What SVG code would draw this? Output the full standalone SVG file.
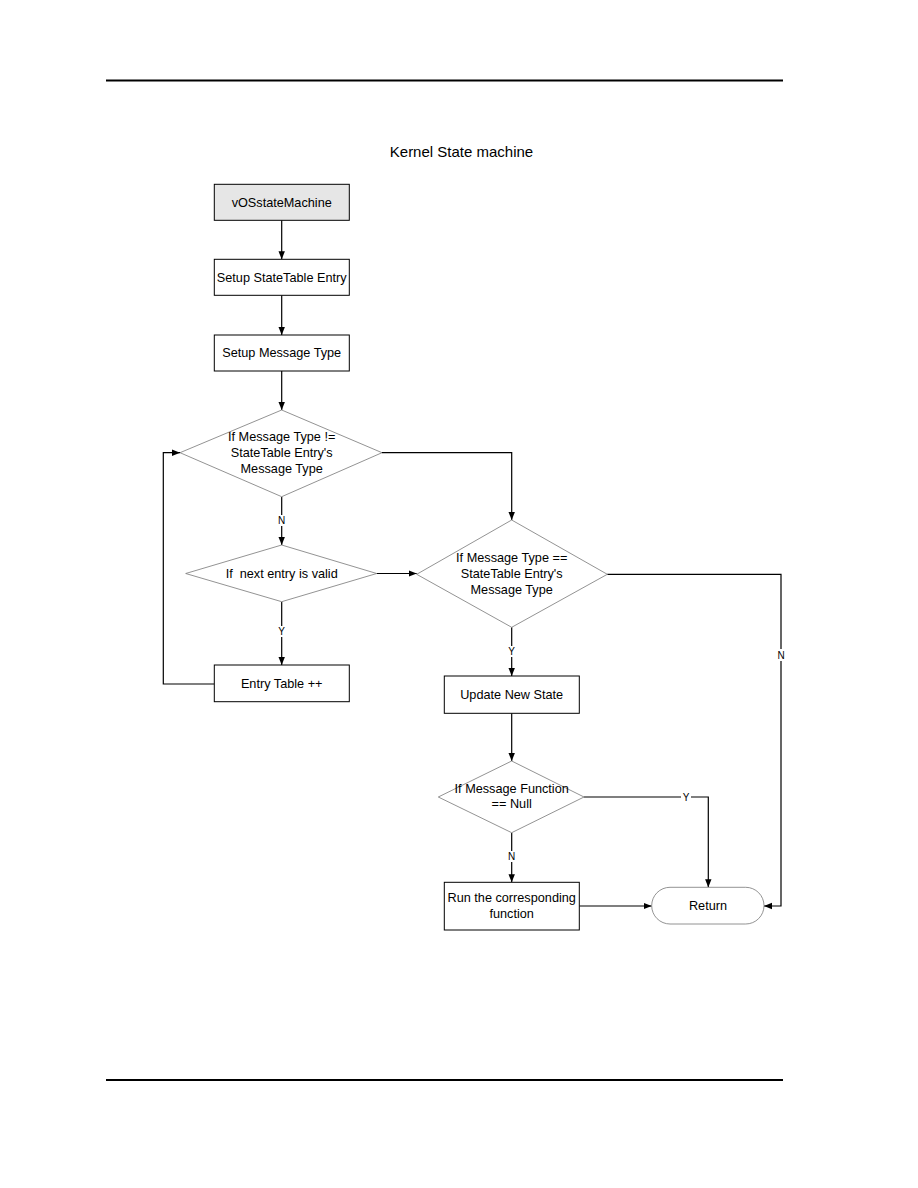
<svg xmlns="http://www.w3.org/2000/svg" width="918" height="1188" viewBox="0 0 918 1188">
<style>
text{font-family:"Liberation Sans",Arial,sans-serif;font-size:12.7px;fill:#000;text-anchor:middle}
.box{fill:#fff;stroke:#000;stroke-width:1}
.dia{fill:#fff;stroke:#777;stroke-width:0.8}
.con{fill:none;stroke:#000;stroke-width:1.2}
.lbl{font-size:10px}
</style>
<defs>
<marker id="ah" markerWidth="8" markerHeight="8" refX="8" refY="4" orient="auto" markerUnits="userSpaceOnUse">
<path d="M0,0.8 L8,4 L0,7.2 Z" fill="#000"/>
</marker>
</defs>
<rect width="918" height="1188" fill="#fff"/>
<line x1="106" y1="80.5" x2="783" y2="80.5" stroke="#000" stroke-width="2"/>
<line x1="106" y1="1080" x2="783" y2="1080" stroke="#000" stroke-width="2"/>
<text x="461.5" y="157" style="font-size:15px">Kernel State machine</text>

<g id="connectors">
<path class="con" d="M281.7,220.3 V259.3" marker-end="url(#ah)"/>
<path class="con" d="M281.7,295.3 V335" marker-end="url(#ah)"/>
<path class="con" d="M281.7,371 V410" marker-end="url(#ah)"/>
<path class="con" d="M281.7,496.7 V515 M281.7,526 V545" marker-end="url(#ah)"/>
<path class="con" d="M281.7,601.7 V626 M281.7,637 V665" marker-end="url(#ah)"/>
<path class="con" d="M214.3,684 H163.3 V452.7 H180" marker-end="url(#ah)"/>
<path class="con" d="M382,452.7 H511.7 V520" marker-end="url(#ah)"/>
<path class="con" d="M376.7,573.5 H416.7" marker-end="url(#ah)"/>
<path class="con" d="M607.3,574.3 H781 V649 M781,661 V906 H764" marker-end="url(#ah)"/>
<path class="con" d="M511.7,627.3 V646 M511.7,657 V676" marker-end="url(#ah)"/>
<path class="con" d="M511.7,713.3 V761" marker-end="url(#ah)"/>
<path class="con" d="M584,797 H681 M691,797 H708.3 V887.3" marker-end="url(#ah)"/>
<path class="con" d="M511.7,832.7 V851 M511.7,862 V882.3" marker-end="url(#ah)"/>
<path class="con" d="M579.3,906 H651.7" marker-end="url(#ah)"/>
<text class="lbl" x="281.7" y="524">N</text>
<text class="lbl" x="281.7" y="635">Y</text>
<text class="lbl" x="781" y="659">N</text>
<text class="lbl" x="511.7" y="655">Y</text>
<text class="lbl" x="686" y="801">Y</text>
<text class="lbl" x="511.7" y="860">N</text>
</g>

<g id="n1">
<rect x="214.3" y="184.3" width="135" height="36" fill="#e6e6e6" stroke="#000" stroke-width="1"/>
<text x="281.7" y="206.5">vOSstateMachine</text>
</g>
<g id="n2">
<rect class="box" x="214.3" y="259.3" width="135" height="36"/>
<text x="281.7" y="281.5">Setup StateTable Entry</text>
</g>
<g id="n3">
<rect class="box" x="214.3" y="335" width="135" height="36"/>
<text x="281.7" y="357">Setup Message Type</text>
</g>
<g id="d1">
<polygon class="dia" points="281.7,410 382,452.7 281.7,496.7 180,452.7"/>
<text x="281.7" y="441">If Message Type !=</text>
<text x="281.7" y="457">StateTable Entry's</text>
<text x="281.7" y="473">Message Type</text>
</g>
<g id="d2">
<polygon class="dia" points="281.7,545 376.7,573.5 281.7,601.7 185.7,573.5"/>
<text x="281.7" y="578" xml:space="preserve">If  next entry is valid</text>
</g>
<g id="n4">
<rect class="box" x="214.3" y="665" width="135" height="36.7"/>
<text x="281.7" y="688">Entry Table ++</text>
</g>
<g id="d3">
<polygon class="dia" points="511.7,520 607.3,574.3 511.7,627.3 416.7,574.3"/>
<text x="511.7" y="562">If Message Type ==</text>
<text x="511.7" y="578">StateTable Entry's</text>
<text x="511.7" y="594">Message Type</text>
</g>
<g id="n5">
<rect class="box" x="444.3" y="676" width="135" height="37.3"/>
<text x="511.7" y="699">Update New State</text>
</g>
<g id="d4">
<polygon class="dia" points="511.7,761 584,797 511.7,832.7 438.3,797"/>
<text x="511.7" y="793">If Message Function</text>
<text x="511.7" y="808">== Null</text>
</g>
<g id="n6">
<rect class="box" x="444.3" y="882.3" width="135" height="47.7"/>
<text x="511.7" y="902">Run the corresponding</text>
<text x="511.7" y="918">function</text>
</g>
<g id="n7">
<rect x="651.7" y="887.3" width="112.3" height="36.7" rx="18.3" ry="18.3" fill="#fff" stroke="#777" stroke-width="0.8"/>
<text x="708" y="910">Return</text>
</g>
</svg>
